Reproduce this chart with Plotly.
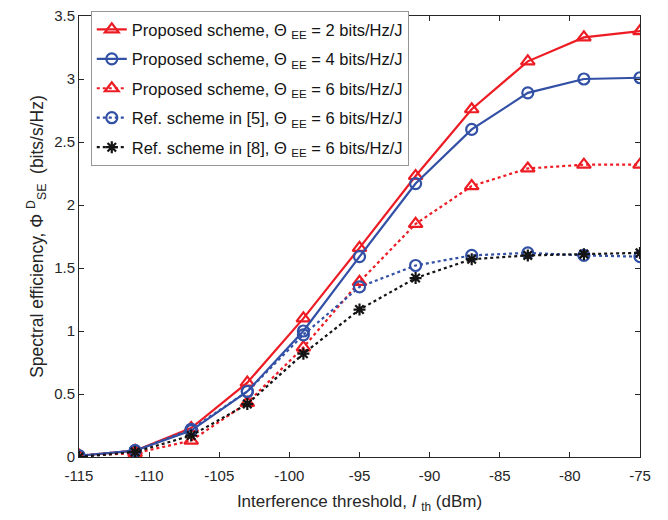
import plotly.graph_objects as go

x_vals = [-115, -111, -107, -103, -99, -95, -91, -87, -83, -79, -75]

prop_ee2 = [0.01, 0.05, 0.23, 0.59, 1.10, 1.66, 2.23, 2.76, 3.14, 3.33, 3.38]
prop_ee4 = [0.01, 0.05, 0.21, 0.52, 1.00, 1.59, 2.17, 2.60, 2.89, 3.00, 3.01]
prop_ee6 = [0.01, 0.03, 0.13, 0.43, 0.87, 1.39, 1.85, 2.15, 2.29, 2.32, 2.32]
ref5_ee6 = [0.01, 0.05, 0.22, 0.52, 0.97, 1.35, 1.52, 1.60, 1.62, 1.60, 1.59]
ref8_ee6 = [0.00, 0.04, 0.17, 0.42, 0.82, 1.17, 1.42, 1.57, 1.60, 1.61, 1.62]

names = [
    "Proposed scheme, Θ <sub>EE</sub> = 2 bits/Hz/J",
    "Proposed scheme, Θ <sub>EE</sub> = 4 bits/Hz/J",
    "Proposed scheme, Θ <sub>EE</sub> = 6 bits/Hz/J",
    "Ref. scheme in [5], Θ <sub>EE</sub> = 6 bits/Hz/J",
    "Ref. scheme in [8], Θ <sub>EE</sub> = 6 bits/Hz/J",
]

x_ticks = [-115, -110, -105, -100, -95, -90, -85, -80, -75]
y_ticks = [0, 0.5, 1, 1.5, 2, 2.5, 3, 3.5]
y_tick_labels = ["0", "0.5", "1", "1.5", "2", "2.5", "3", "3.5"]

RED = "rgb(237,28,36)"
BLUE = "rgb(50,80,165)"
BLACK = "rgb(20,20,20)"

series = [
    (prop_ee2, RED, "solid", "triangle-up-open", 12),
    (prop_ee4, BLUE, "solid", "circle-open", 11),
    (prop_ee6, RED, "dot", "triangle-up-open", 12),
    (ref5_ee6, BLUE, "dot", "circle-open", 11),
    (ref8_ee6, BLACK, "dot", "asterisk-open", 10),
]

fig = go.Figure()
for i, ((vals, col, dash, sym, ms), nm) in enumerate(zip(series, names)):
    fig.add_trace(go.Scatter(
        x=x_vals, y=vals, name=nm, mode="lines+markers", legendgroup=f"g{i}",
        line=dict(color=col, width=2.2, dash=dash),
        marker=dict(symbol=sym, size=ms, color=col, line=dict(color=col, width=2.2)),
    ))

axis_common = dict(
    showgrid=False, zeroline=False, showline=True, linecolor="rgb(38,38,38)", linewidth=1,
    mirror="ticks", ticks="inside", ticklen=5, tickcolor="rgb(38,38,38)",
    tickfont=dict(size=15, color="rgb(38,38,38)"), ticklabeloverflow="allow",
)

fig.update_layout(
    width=668, height=520,
    margin=dict(l=79, r=28, t=7, b=63),
    paper_bgcolor="white", plot_bgcolor="white",
    font=dict(family="Liberation Sans, Arial, sans-serif", color="rgb(38,38,38)"),
    xaxis=dict(range=[-115, -75], tickvals=x_ticks, ticktext=[str(v) for v in x_ticks],
               title=dict(text="Interference threshold, <i>I</i> <sub>th</sub> (dBm)",
                          font=dict(size=17), standoff=12),
               ticklabelstandoff=5,
               **axis_common),
    yaxis=dict(range=[0, 3.5], tickvals=y_ticks, ticktext=y_tick_labels,
               title=dict(text="Spectral efficiency, Φ <sup>D</sup><sub>SE</sub>  (bits/s/Hz)",
                          font=dict(size=17.5), standoff=6),
               **axis_common),
    legend=dict(x=0.021, y=1.011, xanchor="left", yanchor="top",
                bgcolor="white", bordercolor="rgb(150,150,150)", borderwidth=1,
                font=dict(size=16.5, color="rgb(20,20,20)"), itemwidth=30,
                tracegroupgap=5),
    showlegend=True,
)

fig.write_html("out.html", post_script="document.body.style.margin='0px';",
               config={"displayModeBar": False})
